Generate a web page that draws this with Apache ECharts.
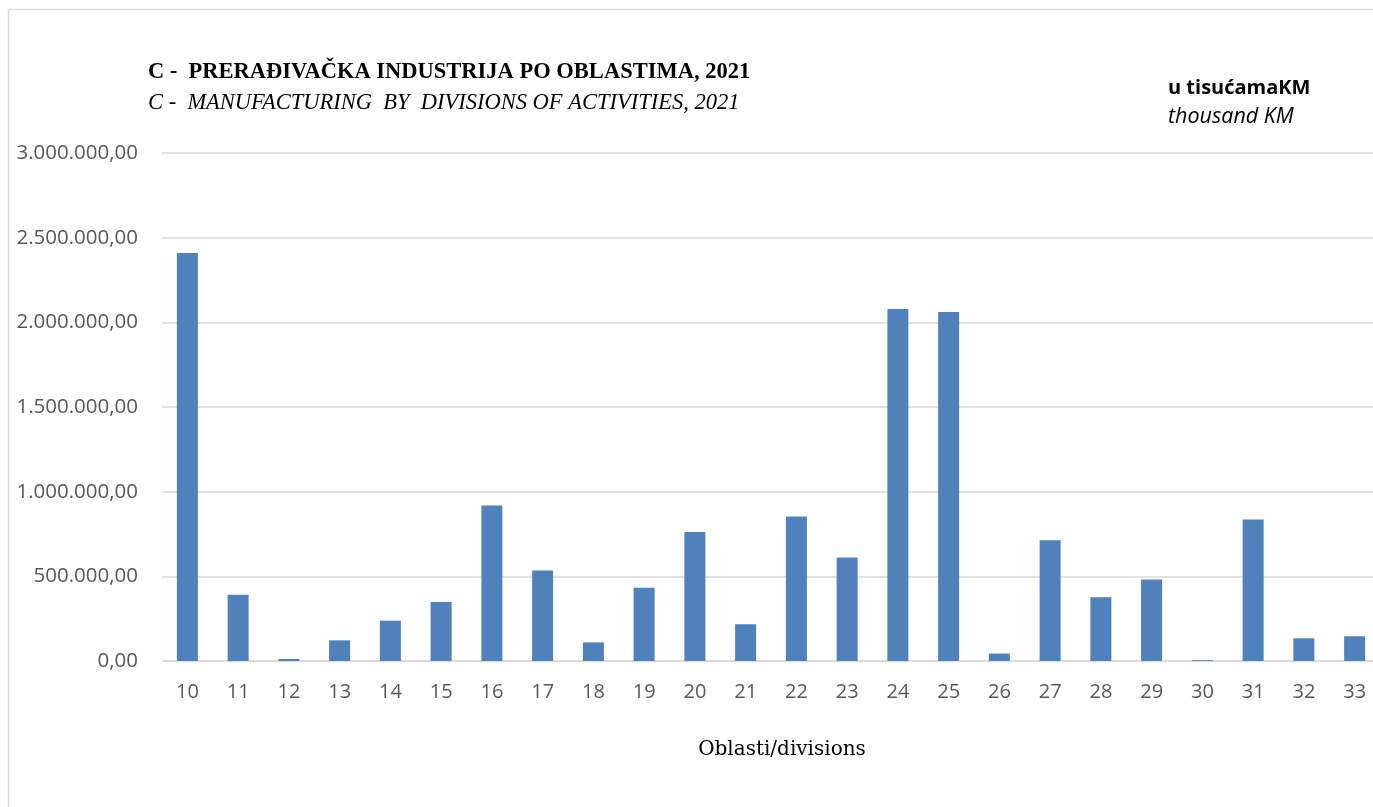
<!DOCTYPE html>
<html>
<head>
<meta charset="utf-8">
<script src="https://cdn.jsdelivr.net/npm/echarts@6/dist/echarts.min.js"></script>
<style>
html,body{margin:0;padding:0;background:#fff;}
#c{width:1373px;height:807px;}
</style>
</head>
<body>
<div id="c"></div>
<script>
const categories = ['10','11','12','13','14','15','16','17','18','19','20','21','22','23','24','25','26','27','28','29','30','31','32','33'];
const values = [2409000, 391000, 12000, 122000, 238000, 348000, 918000, 534000, 110000, 433000, 762000, 217000, 853000, 611000, 2079000, 2061000, 44000, 713000, 376000, 482000, 5000, 835000, 134000, 146000];
const yTicks = [0, 500000, 1000000, 1500000, 2000000, 2500000, 3000000];

function fmt(v){
  const s = Math.round(v).toString().replace(/\B(?=(\d{3})+(?!\d))/g, '.');
  return s + ',00';
}

const chart = echarts.init(document.getElementById('c'));
chart.setOption({
  animation: false,
  backgroundColor: '#ffffff',
  grid: {left: 162, top: 153, width: 1218, height: 508, containLabel: false, outerBoundsMode: 'none'},
  graphic: [
    {type: 'rect', shape: {x: 8.5, y: 9.5, width: 1500, height: 900}, style: {fill: 'none', stroke: '#d9d9d9', lineWidth: 1.5}, silent: true},
    {type: 'text', x: 148, y: 72, style: {text: 'C -  PRERAĐIVAČKA INDUSTRIJA PO OBLASTIMA, 2021', font: 'bold 22.5px "Liberation Serif", serif', fill: '#000', textVerticalAlign: 'middle'}},
    {type: 'text', x: 148, y: 103, style: {text: 'C -  MANUFACTURING  BY  DIVISIONS OF ACTIVITIES, 2021', font: 'italic 22.5px "Liberation Serif", serif', fill: '#000', textVerticalAlign: 'middle'}},
    {type: 'text', x: 1168, y: 88, style: {text: 'u tisućamaKM', font: 'bold 20px "Open Sans", sans-serif', fill: '#000', textVerticalAlign: 'middle'}},
    {type: 'text', x: 1168, y: 117, style: {text: 'thousand KM', font: 'italic 21.5px "Open Sans", sans-serif', fill: '#000', textVerticalAlign: 'middle'}},
    {type: 'text', x: 782, y: 750, style: {text: 'Oblasti/divisions', font: '20px "DejaVu Serif", serif', fill: '#000', textAlign: 'center', textVerticalAlign: 'middle'}}
  ],
  xAxis: {
    type: 'category',
    data: categories,
    axisLine: {show: true, lineStyle: {color: '#d9d9d9', width: 1.5}},
    axisTick: {show: false},
    axisLabel: {fontFamily: '"Open Sans", sans-serif', fontSize: 20, color: '#595959', margin: 21, hideOverlap: false}
  },
  yAxis: {
    type: 'value',
    min: 0, max: 3000000, interval: 500000,
    axisLine: {show: false},
    axisTick: {show: false},
    splitLine: {lineStyle: {color: '#d9d9d9', width: 1.5}},
    axisLabel: {
      fontFamily: '"Open Sans", sans-serif', fontSize: 20.5, color: '#595959', margin: 24,
      formatter: function(v){ return yTicks.indexOf(v) >= 0 ? fmt(v) : ''; }
    }
  },
  series: [{
    type: 'bar',
    data: values,
    barWidth: 21,
    itemStyle: {color: '#4f81bd'}
  }]
});
</script>
</body>
</html>
